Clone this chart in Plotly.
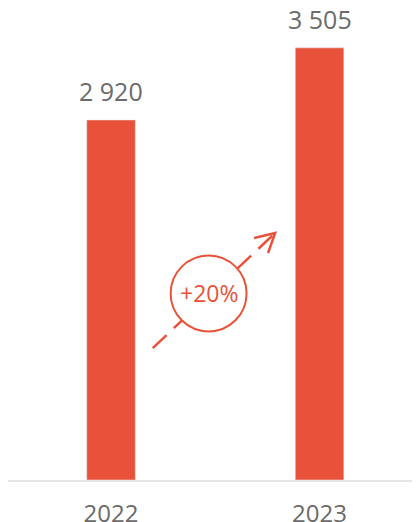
import plotly.graph_objects as go

years = ["2022", "2023"]
values = [2920, 3505]
growth_label = "+20%"

bar_color = "#E9523A"
text_color = "#6b6b6b"

def fmt(v):
    return f"{v:,}".replace(",", " ")

fig = go.Figure()
fig.add_trace(go.Bar(
    x=years, y=values, marker_color=bar_color, width=0.233,
    hoverinfo="skip",
))

for i, v in enumerate(values):
    fig.add_annotation(x=i, y=v, text=fmt(v), showarrow=False,
                       xref="x", yref="y",
                       yanchor="bottom", yshift=10,
                       font=dict(family="Open Sans", size=25, color=text_color))

# growth arrow (dashed line with open chevron head)
x0, y0 = 0.200, 1070
x1, y1 = 0.787, 2003
fig.add_shape(type="line", x0=x0, y0=y0, x1=x1, y1=y1, xref="x", yref="y",
              line=dict(color=bar_color, width=2.5, dash="19px,10px"))
fig.add_shape(type="path", xref="x", yref="y",
              path=f"M 0.686,1963 L {x1},{y1} L 0.753,1841",
              line=dict(color=bar_color, width=2.5))
cx, cy, rx, ry = 0.468, 1513, 0.182, 308
fig.add_shape(type="circle", xref="x", yref="y",
              x0=cx - rx, x1=cx + rx, y0=cy - ry, y1=cy + ry,
              line=dict(color=bar_color, width=2), fillcolor="white")
fig.add_annotation(x=cx, y=cy, text=growth_label, showarrow=False,
                   font=dict(family="Open Sans", size=23, color=bar_color))

fig.update_layout(
    width=420, height=522,
    margin=dict(l=0, r=0, t=0, b=50, pad=0),
    paper_bgcolor="white", plot_bgcolor="white",
    showlegend=False,
    xaxis=dict(type="category", range=[-0.494, 1.52], showline=True, linecolor="#e6e6e6", linewidth=2,
               showgrid=False, ticks="", automargin=False, ticklabelstandoff=11,
               tickfont=dict(family="Open Sans", size=24, color=text_color)),
    yaxis=dict(range=[0, 3828], visible=False, automargin=False),
)

fig.write_html("out.html")
